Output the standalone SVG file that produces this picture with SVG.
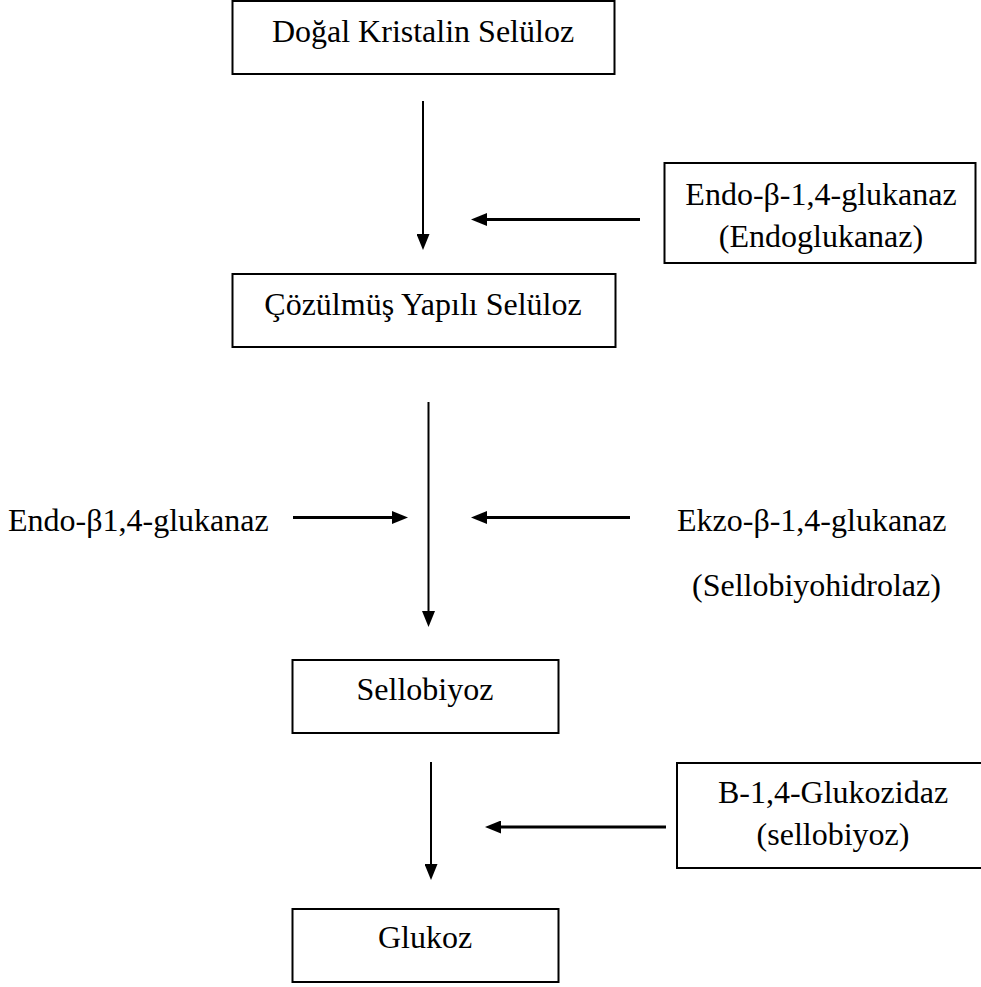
<svg xmlns="http://www.w3.org/2000/svg" width="981" height="987" viewBox="0 0 981 987">
<style>
.box{fill:#fff;stroke:#000;stroke-width:2}
.t{font-family:"Liberation Serif","Times New Roman",serif;font-size:32px;fill:#000}
.c{text-anchor:middle}
.v{stroke:#000;stroke-width:2;fill:none}
.h{stroke:#000;stroke-width:3;fill:none}
</style>
<defs>
<marker id="ah" viewBox="0 0 16 13" refX="1" refY="6.5" markerWidth="16" markerHeight="13" markerUnits="userSpaceOnUse" orient="auto">
<path d="M0,0 L16,6.5 L0,13 Z" fill="#000"/>
</marker>
</defs>
<rect width="981" height="987" fill="#fff"/>
<g id="n1"><rect class="box" x="232.5" y="1" width="382" height="73"/><text class="t c" x="423" y="42">Doğal Kristalin Selüloz</text></g>
<g id="n2"><rect class="box" x="664.5" y="163" width="311" height="100"/><text class="t c" x="821" y="205">Endo-β-1,4-glukanaz</text><text class="t c" x="821" y="247">(Endoglukanaz)</text></g>
<g id="n3"><rect class="box" x="232.5" y="274" width="383" height="73"/><text class="t c" x="423" y="315">Çözülmüş Yapılı Selüloz</text></g>
<g id="n4"><text class="t" x="8" y="531">Endo-β1,4-glukanaz</text></g>
<g id="n5"><text class="t" x="677" y="531">Ekzo-β-1,4-glukanaz</text><text class="t" x="692" y="596">(Sellobiyohidrolaz)</text></g>
<g id="n6"><rect class="box" x="292.5" y="660" width="266" height="73"/><text class="t c" x="425" y="700">Sellobiyoz</text></g>
<g id="n7"><rect class="box" x="677" y="763" width="320" height="105"/><text class="t c" x="833" y="803">B-1,4-Glukozidaz</text><text class="t c" x="833" y="845">(sellobiyoz)</text></g>
<g id="n8"><rect class="box" x="292.5" y="909" width="266" height="73"/><text class="t c" x="425" y="948">Glukoz</text></g>
<g id="connectors">
<path class="v" d="M423,101 V235" marker-end="url(#ah)"/>
<path class="h" d="M640,219.5 H486" marker-end="url(#ah)"/>
<path class="v" d="M428.5,402 V612" marker-end="url(#ah)"/>
<path class="h" d="M293,517.5 H393" marker-end="url(#ah)"/>
<path class="h" d="M630,517.5 H486" marker-end="url(#ah)"/>
<path class="v" d="M431,762 V865" marker-end="url(#ah)"/>
<path class="h" d="M666,827 H500" marker-end="url(#ah)"/>
</g>
</svg>
